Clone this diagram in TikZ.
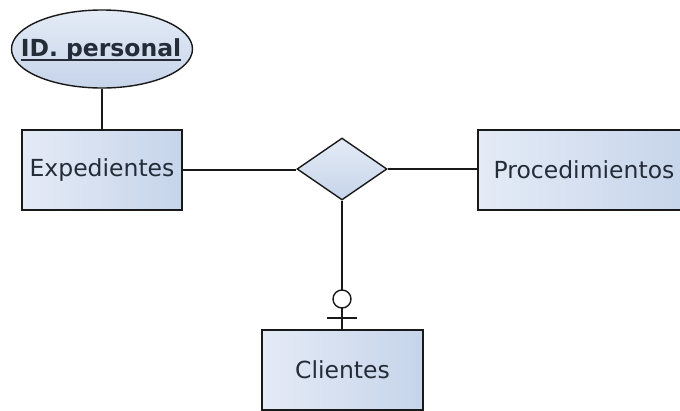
\documentclass[tikz,border=0pt]{standalone}
\usepackage{fontspec}
\setmainfont{DejaVu Sans}
\usetikzlibrary{shapes.geometric}
\definecolor{inkline}{RGB}{25,25,25}
\definecolor{inktext}{RGB}{36,44,56}
\definecolor{fillA}{RGB}{228,235,246}
\definecolor{fillB}{RGB}{198,212,234}
\tikzset{
  entity/.style={draw=inkline, line width=1.4pt, rectangle, minimum width=160pt,
    minimum height=80pt, inner sep=0pt, left color=fillA, right color=fillB,
    text=inktext, font=\fontsize{23.5}{28}\selectfont},
  attribute/.style={draw=inkline, line width=1.4pt, ellipse, minimum width=181pt,
    minimum height=78pt, inner sep=0pt, top color=fillA, bottom color=fillB},
  attrtext/.style={inner sep=0pt, text=inktext, font=\bfseries\fontsize{23.5}{28}\selectfont},
  relation/.style={draw=inkline, line width=1.4pt, diamond, minimum width=90pt,
    minimum height=62pt, inner sep=0pt, top color=fillA, bottom color=fillB},
  link/.style={draw=inkline, line width=1.4pt},
  keyline/.style={draw=inktext, line width=2pt},
}
\begin{document}
\begin{tikzpicture}[x=1pt,y=-1pt]
\useasboundingbox (0,0) rectangle (680,410);
\clip (0,0) rectangle (680,410);
\fill[white] (0,0) rectangle (680,410);

% ER elements
\node[attribute] (idp) at (102,49) {};
\node[attrtext, anchor=base] (idplabel) at (101,56) {ID. personal};
\draw[keyline] ([yshift=-3.5pt]idplabel.base west) -- ([yshift=-3.5pt]idplabel.base east);
\node[entity] (exp) at (102,170) {Expedientes};
\node[relation] (rel) at (342,169) {};
\node[entity, minimum width=212pt] (proc) at (584,170) {Procedimientos};
\node[entity, minimum width=161pt] (cli) at (342.5,370) {Clientes};

% connectors
\draw[link] (idp.south) -- (idp.south |- exp.north);
\draw[link] (exp.east) -- (exp.east -| rel.west);
\draw[link] (rel.east) -- (rel.east -| proc.west);
\draw[link] (rel.south) -- (rel.south |- cli.north);

% optional-one marker on the Clientes side
\coordinate (ring) at (342,299);
\coordinate (barL) at (327,318);
\coordinate (barR) at (357,318);
\draw[link, fill=white] (ring) circle (9pt);
\draw[link] (barL) -- (barR);
\end{tikzpicture}
\end{document}
